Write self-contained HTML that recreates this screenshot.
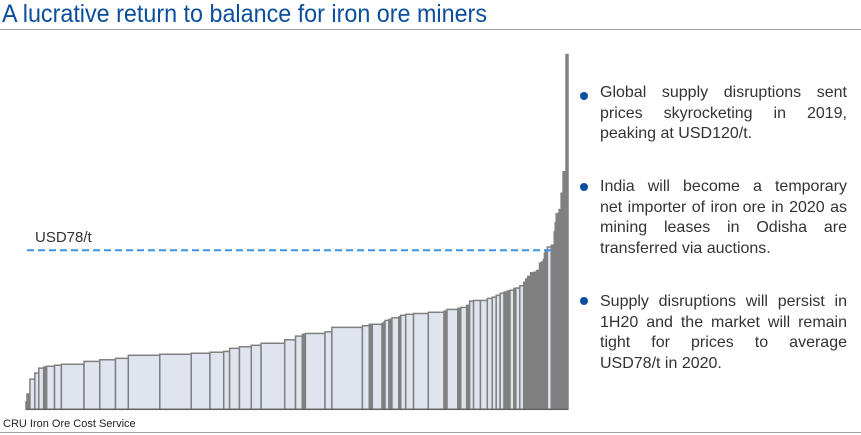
<!DOCTYPE html>
<html><head><meta charset="utf-8"><style>
body{margin:0;background:#fff;}
#wrap{position:relative;width:861px;height:435px;overflow:hidden;font-family:"Liberation Sans",sans-serif;}
.bul{position:absolute;left:600px;width:247px;font-size:16px;line-height:20.5px;color:#333;text-align:justify;}
.bul .j{display:block;text-align-last:justify;}
.dot{position:absolute;left:580px;width:8px;height:8px;border-radius:50%;background:#0a4fa0;}
</style></head><body>
<div id="wrap">
<svg width="861" height="435" style="position:absolute;left:0;top:0">
<text x="2" y="22" font-size="25" fill="#0b4f9c" textLength="485" lengthAdjust="spacingAndGlyphs" font-family="Liberation Sans, sans-serif">A lucrative return to balance for iron ore miners</text>
<line x1="0" y1="29.5" x2="861" y2="29.5" stroke="#a0a0a0" stroke-width="1"/>
<line x1="0" y1="432.5" x2="861" y2="432.5" stroke="#a0a0a0" stroke-width="1"/>
<text x="3" y="427" font-size="11" fill="#222" font-family="Liberation Sans, sans-serif">CRU Iron Ore Cost Service</text>
<g id="bars"></g>
<line id="base" stroke="#555" stroke-width="1"/>
<line id="ref" stroke="#3a93e6" stroke-width="2" stroke-dasharray="7,4"/>
<text id="reflab" x="35" y="242" font-size="15" fill="#333" font-family="Liberation Sans, sans-serif">USD78/t</text>
</svg>
<div class="dot" style="top:92px"></div>
<div class="bul" style="top:83px">Global supply disruptions sent prices skyrocketing in 2019, peaking at USD120/t.</div>
<div class="dot" style="top:183px"></div>
<div class="bul" style="top:177px"><span class="j">India will become a temporary</span>net importer of iron ore in 2020 as mining leases in Odisha are transferred via auctions.</div>
<div class="dot" style="top:297px"></div>
<div class="bul" style="top:292px"><span class="j">Supply disruptions will persist in 1H20 and the market will remain tight for prices to average</span>USD78/t in 2020.</div>
</div>
<script>
const capacity=[1,3,5,4,5,3,8,7,23,16,16,13,32,32,19,14,6,10,12,10,24,11,7,3,20,7,31,7,3,10,2,1,4,3,7,2,5,8,15,16,3,11,3,6,3,4,7,7,5,4,4,4,3,3,4,2,4,4,2,2,3,3,3,3,2,2,1,1,2,4,3,1,1,3,2];
const costs=[3.7,7.5,14.8,17.8,20.2,20.8,21.1,21.6,22.1,23.5,24.3,25,26.5,27,27.5,28,28.4,29.9,30.7,31.4,32.4,34.1,35.9,36.8,37.2,38,40.2,41,41.7,41.7,42.2,42.8,43.6,44.1,44.9,45.4,46.1,46.6,47,47.6,48.2,49,49.5,50,51,53.1,53.4,53.4,54.4,55,55.9,56.9,57.5,58,58.4,59.3,59.5,60.6,62.3,63.9,65.2,67,67.2,68.1,71.7,72.2,73.5,76.5,78.1,79.6,80.5,87,91.5,96,98];
const extraCap=[2,3,2];
const extraCost=[106,116.5,174];
const priceLine=78;
const allCap=capacity.concat(extraCap), allCost=costs.concat(extraCost);
const X0=26, base=409.3, pxPerUSD=159/78;
const total=allCap.reduce((a,b)=>a+b,0);
const xs=v=>X0+v*(542/total);
const ys=v=>base-v*pxPerUSD;
const g=document.getElementById('bars');
let cum=0;
for(let i=0;i<allCap.length;i++){
  const x1=xs(cum), x2=xs(cum+allCap[i]); cum+=allCap[i];
  const r=document.createElementNS('http://www.w3.org/2000/svg','rect');
  r.setAttribute('x',x1);r.setAttribute('y',ys(allCost[i]));
  r.setAttribute('width',Math.max(x2-x1,0.5));r.setAttribute('height',base-ys(allCost[i]));
  r.setAttribute('fill',(x2-x1)<3.5?'#808080':'#dfe4ee');r.setAttribute('stroke','#808080');r.setAttribute('stroke-width','1.5');
  
  
  g.appendChild(r);
}
const b=document.getElementById('base');
b.setAttribute('x1',X0);b.setAttribute('x2',xs(total));b.setAttribute('y1',base);b.setAttribute('y2',base);
const ref=document.getElementById('ref');
ref.setAttribute('x1',27);ref.setAttribute('x2',553);ref.setAttribute('y1',ys(priceLine));ref.setAttribute('y2',ys(priceLine));
</script>
</body></html>
